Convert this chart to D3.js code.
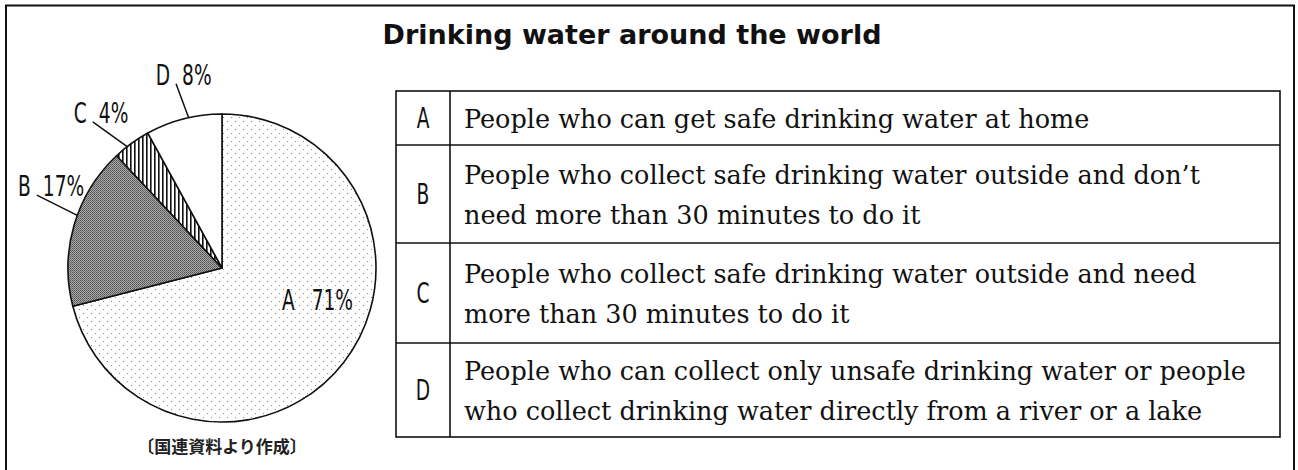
<!DOCTYPE html>
<html>
<head>
<meta charset="utf-8">
<script src="https://cdn.jsdelivr.net/npm/d3@7"></script>
<style>
  body { margin: 0; background: #fff; }
  svg { display: block; }
</style>
</head>
<body>
<svg id="chart" width="1298" height="470"></svg>
<script>
// Drinking water around the world - pie with a key table beside it

const title = "Drinking water around the world";
const categories = ["A", "B", "C", "D"];
const values = [71, 17, 4, 8];
const descriptions = [
  ["People who can get safe drinking water at home"],
  ["People who collect safe drinking water outside and don\u2019t", "need more than 30 minutes to do it"],
  ["People who collect safe drinking water outside and need", "more than 30 minutes to do it"],
  ["People who can collect only unsafe drinking water or people", "who collect drinking water directly from a river or a lake"]
];
const source = "\u3014国連資料より作成\u3015";

const width = 1298;
const height = 470;

const gothic = "'Liberation Sans Narrow', 'DejaVu Sans Condensed', sans-serif";
const serif = "'DejaVu Serif', serif";

const svg = d3.select("#chart");

// patterns for the slices
const defs = svg.append("defs");

const dots = defs.append("pattern")
  .attr("id", "dots").attr("patternUnits", "userSpaceOnUse")
  .attr("width", 8).attr("height", 8);
dots.append("rect").attr("width", 8).attr("height", 8).attr("fill", "#fff");
dots.append("rect").attr("x", 1).attr("y", 1).attr("width", 1).attr("height", 1).attr("fill", "#888");
dots.append("rect").attr("x", 5).attr("y", 5).attr("width", 1).attr("height", 1).attr("fill", "#888");

const dense = defs.append("pattern")
  .attr("id", "dense").attr("patternUnits", "userSpaceOnUse")
  .attr("width", 2).attr("height", 2);
dense.append("rect").attr("width", 2).attr("height", 2).attr("fill", "#aaa");
dense.append("rect").attr("width", 1).attr("height", 1).attr("fill", "#505050");
dense.append("rect").attr("x", 1).attr("y", 1).attr("width", 1).attr("height", 1).attr("fill", "#666");

const stripes = defs.append("pattern")
  .attr("id", "stripes").attr("patternUnits", "userSpaceOnUse")
  .attr("width", 4).attr("height", 4);
stripes.append("rect").attr("width", 4).attr("height", 4).attr("fill", "#fff");
stripes.append("rect").attr("x", 0).attr("width", 1.6).attr("height", 4).attr("fill", "#111");

const fills = ["url(#dots)", "url(#dense)", "url(#stripes)", "#fff"];

// outer frame (bottom edge runs off the picture)
svg.append("path")
  .attr("d", `M6,${height} V5.5 H1294 V${height}`)
  .attr("fill", "none")
  .attr("stroke", "#111")
  .attr("stroke-width", 2);

svg.append("text")
  .attr("x", 632)
  .attr("y", 44)
  .attr("text-anchor", "middle")
  .attr("font-family", "'DejaVu Sans', sans-serif")
  .attr("font-weight", "bold")
  .attr("font-size", 27)
  .attr("fill", "#111")
  .text(title);

// pie
const cx = 222, cy = 268, r = 154;
const pie = d3.pie().sort(null).value((d) => d);
const arcs = pie(values);
const arc = d3.arc().innerRadius(0).outerRadius(r);

const g = svg.append("g").attr("transform", `translate(${cx},${cy})`);

g.selectAll("path.slice")
  .data(arcs)
  .enter()
  .append("path")
  .attr("class", "slice")
  .attr("d", arc)
  .attr("fill", (d, i) => fills[i])
  .attr("stroke", "#111")
  .attr("stroke-width", 1.6)
  .attr("stroke-linejoin", "round");

const rad = (deg) => deg * Math.PI / 180;
const polar = (a, dist) => [Math.sin(a) * dist, -Math.cos(a) * dist];

// leader lines: angle where the line meets the rim, and the outer end (angle, distance)
const leaderIn = [null, 290, 322, 347.5];
const leaderOut = [null, [291.5, 199], [318.5, 195], [346, 190]];

const labelText = (sel, txt, dx, anchor) => sel.append("text")
  .attr("transform", `translate(${dx},0) scale(0.74,1)`)
  .attr("text-anchor", anchor)
  .attr("font-family", gothic)
  .attr("font-size", 28)
  .attr("fill", "#111")
  .text(txt);

arcs.forEach((d, i) => {
  if (i === 0) return;
  const p1 = polar(rad(leaderIn[i]), r);
  const p2 = polar(rad(leaderOut[i][0]), leaderOut[i][1]);
  g.append("line")
    .attr("x1", p1[0]).attr("y1", p1[1])
    .attr("x2", p2[0]).attr("y2", p2[1])
    .attr("stroke", "#111")
    .attr("stroke-width", 1.5);
  const lab = g.append("g").attr("transform", `translate(${p2[0]},${p2[1] + 1})`);
  labelText(lab, categories[i], -6, "end");
  labelText(lab, values[i] + "%", 6, "start");
});

// inside label for A
const aPos = polar(rad(109), 98);
const aLab = g.append("g").attr("transform", `translate(${aPos[0]},${aPos[1] + 10})`);
labelText(aLab, categories[0], -20, "end");
labelText(aLab, values[0] + "%", -3, "start");

svg.append("text")
  .attr("x", cx)
  .attr("y", 453)
  .attr("text-anchor", "middle")
  .attr("font-family", "'Noto Sans CJK JP', sans-serif")
  .attr("font-weight", "bold")
  .attr("font-size", 17)
  .attr("fill", "#222")
  .text(source);

// key table
const tableLeft = 396, tableRight = 1280, colSplit = 450;
const rowEdges = [91, 145, 243, 343, 437];
const lineGap = 40;

const table = svg.append("g");
table.append("rect")
  .attr("x", tableLeft).attr("y", rowEdges[0])
  .attr("width", tableRight - tableLeft)
  .attr("height", rowEdges[4] - rowEdges[0])
  .attr("fill", "none").attr("stroke", "#111").attr("stroke-width", 1.6);
table.append("line")
  .attr("x1", colSplit).attr("x2", colSplit)
  .attr("y1", rowEdges[0]).attr("y2", rowEdges[4])
  .attr("stroke", "#111").attr("stroke-width", 1.6);
table.selectAll("line.row")
  .data(rowEdges.slice(1, 4))
  .enter()
  .append("line")
  .attr("class", "row")
  .attr("x1", tableLeft).attr("x2", tableRight)
  .attr("y1", (d) => d).attr("y2", (d) => d)
  .attr("stroke", "#111").attr("stroke-width", 1.6);

categories.forEach((c, i) => {
  const mid = (rowEdges[i] + rowEdges[i + 1]) / 2;
  table.append("text")
    .attr("transform", `translate(${(tableLeft + colSplit) / 2},${mid + 10}) scale(0.74,1)`)
    .attr("text-anchor", "middle")
    .attr("font-family", gothic)
    .attr("font-size", 28)
    .attr("fill", "#111")
    .text(c);
  const lines = descriptions[i];
  const first = mid + 10 - (lines.length - 1) * lineGap / 2;
  lines.forEach((t, j) => {
    table.append("text")
      .attr("x", 464)
      .attr("y", first + j * lineGap)
      .attr("font-family", serif)
      .attr("font-size", 25.5)
      .attr("fill", "#111")
      .text(t);
  });
});
</script>
</body>
</html>
